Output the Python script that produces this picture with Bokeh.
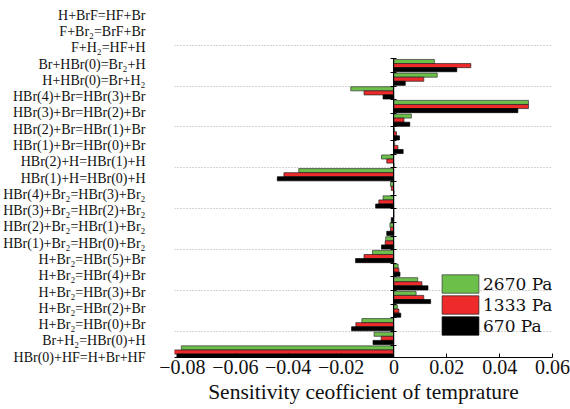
from bokeh.plotting import figure
from bokeh.models import (ColumnDataSource, Range1d, LinearAxis, FixedTicker, Grid,
                          Legend, LegendItem)
from bokeh.transform import dodge
from bokeh.embed import file_html
from bokeh.resources import INLINE

# ---- data (top to bottom as in the chart) ----
reactions = [
    "H+BrF=HF+Br",
    "F+Br₂=BrF+Br",
    "F+H₂=HF+H",
    "Br+HBr(0)=Br₂+H",
    "H+HBr(0)=Br+H₂",
    "HBr(4)+Br=HBr(3)+Br",
    "HBr(3)+Br=HBr(2)+Br",
    "HBr(2)+Br=HBr(1)+Br",
    "HBr(1)+Br=HBr(0)+Br",
    "HBr(2)+H=HBr(1)+H",
    "HBr(1)+H=HBr(0)+H",
    "HBr(4)+Br₂=HBr(3)+Br₂",
    "HBr(3)+Br₂=HBr(2)+Br₂",
    "HBr(2)+Br₂=HBr(1)+Br₂",
    "HBr(1)+Br₂=HBr(0)+Br₂",
    "H+Br₂=HBr(5)+Br",
    "H+Br₂=HBr(4)+Br",
    "H+Br₂=HBr(3)+Br",
    "H+Br₂=HBr(2)+Br",
    "H+Br₂=HBr(0)+Br",
    "Br+H₂=HBr(0)+H",
    "HBr(0)+HF=H+Br+HF",
]
p2670 = [0.0153, 0.0164, -0.0163, 0.0509, 0.0066, 0.0002, 0.0003, -0.0047, -0.0360, -0.0013,
         -0.0041, 0.0, -0.0015, -0.0031, -0.0081, 0.0016, 0.0090, 0.0084, 0.0013, -0.0121,
         -0.0075, -0.0804]
p1333 = [0.0291, 0.0113, -0.0113, 0.0509, 0.0038, 0.0010, 0.0015, -0.0027, -0.0416, -0.0010,
         -0.0057, 0.0, -0.0013, -0.0033, -0.0113, 0.0019, 0.0106, 0.0113, 0.0019, -0.0144,
         -0.0048, -0.0831]
p670 = [0.0238, 0.0043, -0.0041, 0.0469, 0.0060, 0.0021, 0.0035, 0.0, -0.0441, 0.0,
        -0.0069, -0.0010, -0.0027, -0.0047, -0.0145, 0.0023, 0.0129, 0.0139, 0.0026, -0.0160,
        -0.0079, -0.0821]
series_names = ["2670 Pa", "1333 Pa", "670 Pa"]
xticks = [-0.08, -0.06, -0.04, -0.02, 0, 0.02, 0.04, 0.06]
xtick_labels = ["−0.08", "−0.06", "−0.04", "−0.02", "0", "0.02", "0.04", "0.06"]
x_title = "Sensitivity ceofficient of temprature"

n = len(reactions)
pos = [n - 1 - i for i in range(n)]  # bottom = 0

GREEN = "#6cc04a"
RED = "#ee2a2a"
BLACK = "#000000"
FONT = "Liberation Serif"
TXT = "#111111"

src = ColumnDataSource(dict(pos=pos, name=reactions, a=p2670, b=p1333, c=p670))

p = figure(width=570, height=409, output_backend="svg", toolbar_location=None,
           x_range=Range1d(-0.083, 0.06), y_range=Range1d(-0.403, 25.04),
           y_axis_location=None, x_axis_location=None,
           min_border_left=171, min_border_right=18, min_border_top=10, min_border_bottom=52)
p.outline_line_color = None
p.xgrid.visible = False
for g in p.ygrid:
    g.visible = False

# label axis on its own range
p.extra_y_ranges = {"lab": Range1d(-0.02, 21.287)}
lab_axis = LinearAxis(y_range_name="lab", ticker=FixedTicker(ticks=pos),
                      major_label_overrides={pp: nm for pp, nm in zip(pos, reactions)})
lab_axis.axis_line_color = None
lab_axis.major_tick_line_color = None
lab_axis.minor_tick_line_color = None
lab_axis.major_label_standoff = 23
lab_axis.major_label_text_font = FONT
lab_axis.major_label_text_font_size = "14px"
lab_axis.major_label_text_color = TXT
p.add_layout(lab_axis, "left")

# x axis
xaxis = LinearAxis(ticker=FixedTicker(ticks=xticks),
                   major_label_overrides={t: l for t, l in zip(xticks, xtick_labels)},
                   axis_label=x_title)
xaxis.major_tick_in = 4
xaxis.major_tick_out = 0
xaxis.minor_tick_line_color = None
xaxis.axis_line_color = "black"
xaxis.major_label_standoff = 2
xaxis.axis_label_standoff = 3
xaxis.major_label_text_font = FONT
xaxis.major_label_text_font_size = "20px"
xaxis.major_label_text_color = TXT
xaxis.axis_label_text_font = FONT
xaxis.axis_label_text_font_size = "21.5px"
xaxis.axis_label_text_font_style = "normal"
xaxis.axis_label_text_color = TXT
p.add_layout(xaxis, "below")

# zero line with ticks between groups
bounds_ticks = [k + 0.5 for k in range(n)]
zaxis = LinearAxis(fixed_location=0, ticker=FixedTicker(ticks=bounds_ticks),
                   major_label_overrides={t: "" for t in bounds_ticks},
                   bounds=(-0.403, n - 0.5))
zaxis.major_tick_in = 3
zaxis.major_tick_out = 3
zaxis.minor_tick_line_color = None
zaxis.axis_line_color = "black"
p.add_layout(zaxis, "right")

# dotted grid every three groups
grid = Grid(dimension=1, ticker=FixedTicker(ticks=[1.5 + 3 * k for k in range(8)]),
            grid_line_color="#a8a8a8", grid_line_dash="1 2", grid_line_width=1)
p.add_layout(grid)

h = 0.3
r1 = p.hbar(y=dodge("pos", h), left=0, right="a", height=h, source=src,
            fill_color=GREEN, line_color="#333333", line_width=0.7)
r2 = p.hbar(y=dodge("pos", 0), left=0, right="b", height=h, source=src,
            fill_color=RED, line_color="#222222", line_width=0.7)
r3 = p.hbar(y=dodge("pos", -h), left=0, right="c", height=h, source=src,
            fill_color=BLACK, line_color=BLACK, line_width=0.7)

# one legend entry per box so the boxes sit close together
for name, rend, ly in zip(series_names, [r1, r2, r3], [62, 41, 20]):
    lg = Legend(items=[LegendItem(label=name, renderers=[rend])],
                location=(263, ly), glyph_width=46, glyph_height=23,
                label_standoff=0, padding=0, margin=0,
                border_line_color=None, background_fill_alpha=0,
                label_text_font="DejaVu Serif", label_text_font_size="17px",
                label_text_color=TXT, label_height=18)
    p.add_layout(lg, "center")

open("out.html", "w").write(file_html(p, INLINE))
